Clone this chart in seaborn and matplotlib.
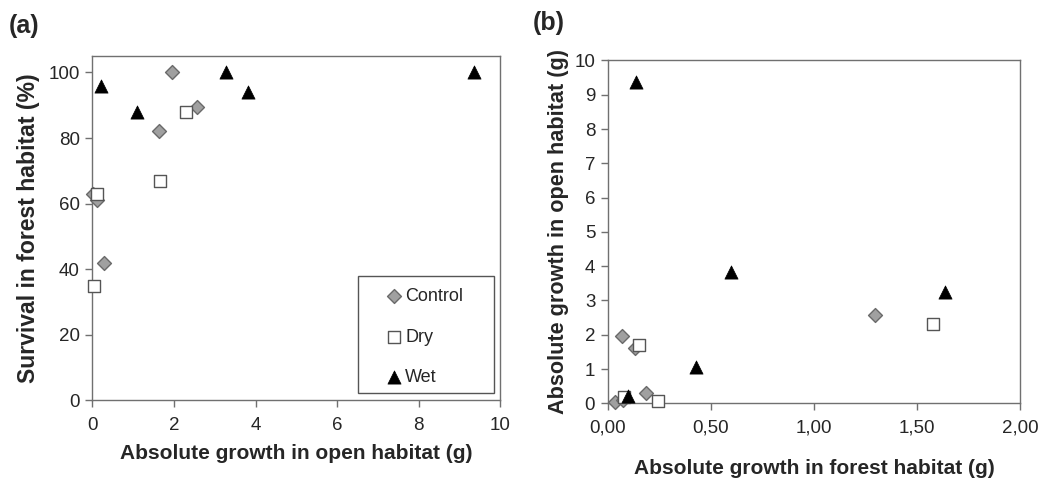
import matplotlib
matplotlib.use("Agg")
import matplotlib.pyplot as plt
from matplotlib.patches import Rectangle
from matplotlib.ticker import FuncFormatter
import seaborn as sns

# panel (a): growth in open habitat vs survival in forest habitat
control_open = [0.02, 0.11, 0.28, 1.63, 1.94, 2.57]
control_surv = [63, 61, 42, 82, 100, 89.5]
dry_open = [0.04, 0.12, 1.65, 2.29]
dry_surv = [35, 63, 67, 88]
wet_open = [0.22, 1.09, 3.28, 3.81, 9.35]
wet_surv = [96, 88, 100, 94, 100]

# panel (b): growth in forest habitat vs growth in open habitat
control_forest = [0.037, 0.075, 0.186, 0.13, 0.07, 1.294]
control_open_b = [0.04, 0.11, 0.30, 1.62, 1.96, 2.58]
dry_forest = [0.079, 0.245, 0.153, 1.576]
dry_open_b = [0.19, 0.06, 1.70, 2.31]
wet_forest = [0.10, 0.43, 0.137, 0.597, 1.637]
wet_open_b = [0.20, 1.06, 9.37, 3.83, 3.26]

sns.set_style("white")
plt.rcParams["font.family"] = ["Liberation Sans", "DejaVu Sans"]
plt.rcParams["font.size"] = 13

fig = plt.figure(figsize=(10.38, 4.79), dpi=100)
ax1 = fig.add_axes([0.0891, 0.1639, 0.393, 0.7192])
ax2 = fig.add_axes([0.5855, 0.158, 0.3972, 0.7157])

styles = {
    "Control": dict(marker="D", color="#a0a0a0", edgecolor="#6a6a6a", s=50, linewidth=1.0),
    "Dry": dict(marker="s", color="white", edgecolor="#555555", s=72, linewidth=1.0),
    "Wet": dict(marker="^", color="black", edgecolor="black", s=90, linewidth=0.5),
}

series_a = [("Control", control_open, control_surv),
            ("Dry", dry_open, dry_surv),
            ("Wet", wet_open, wet_surv)]
series_b = [("Control", control_forest, control_open_b),
            ("Dry", dry_forest, dry_open_b),
            ("Wet", wet_forest, wet_open_b)]

for name, x, y in series_a:
    sns.scatterplot(x=x, y=y, ax=ax1, label=name, zorder=3, clip_on=False, **styles[name])
for name, x, y in series_b:
    sns.scatterplot(x=x, y=y, ax=ax2, legend=False, zorder=3, clip_on=False, **styles[name])

ax1.set_xlim(0, 10)
ax1.set_ylim(0, 105)
ax1.set_xticks(range(0, 11, 2))
ax1.set_yticks(range(0, 101, 20))
ax1.set_xlabel("Absolute growth in open habitat (g)", fontweight="bold", fontsize=15, labelpad=7)
ax1.set_ylabel("Survival in forest habitat (%)", fontweight="bold", fontsize=16.6, labelpad=6)

ax2.set_xlim(0, 2)
ax2.set_ylim(0, 10)
ax2.set_xticks([0, 0.5, 1.0, 1.5, 2.0])
ax2.set_yticks(range(0, 11))
ax2.xaxis.set_major_formatter(FuncFormatter(lambda v, p: f"{v:.2f}".replace(".", ",")))
ax2.set_xlabel("Absolute growth in forest habitat (g)", fontweight="bold", fontsize=15, labelpad=16)
ax2.set_ylabel("Absolute growth in open habitat (g)", fontweight="bold", fontsize=15.6, labelpad=4)

for ax in (ax1, ax2):
    for sp in ax.spines.values():
        sp.set_visible(True)
        sp.set_color("#707070")
        sp.set_linewidth(1.0)
    ax.tick_params(axis="both", direction="out", length=5, width=1, color="#707070",
                   labelsize=13.5, bottom=True, left=True)
    ax.tick_params(axis="x", pad=7)
    ax.tick_params(axis="y", pad=4)

# legend with square frame
leg = ax1.legend(loc="upper left", bbox_to_anchor=(0.722, 0.326), frameon=False,
                 fontsize=13, handlelength=0.8, handletextpad=0.2, labelspacing=1.3,
                 borderpad=0, borderaxespad=0)
ax1.add_patch(Rectangle((0.651, 0.0226), 0.333, 0.339, transform=ax1.transAxes,
                        fill=False, edgecolor="#555555", linewidth=1.0, zorder=4))

fig.text(0.008, 0.945, "(a)", fontsize=18, fontweight="bold", va="center")
fig.text(0.513, 0.952, "(b)", fontsize=18, fontweight="bold", va="center")

fig.savefig("out.png", dpi=100)
